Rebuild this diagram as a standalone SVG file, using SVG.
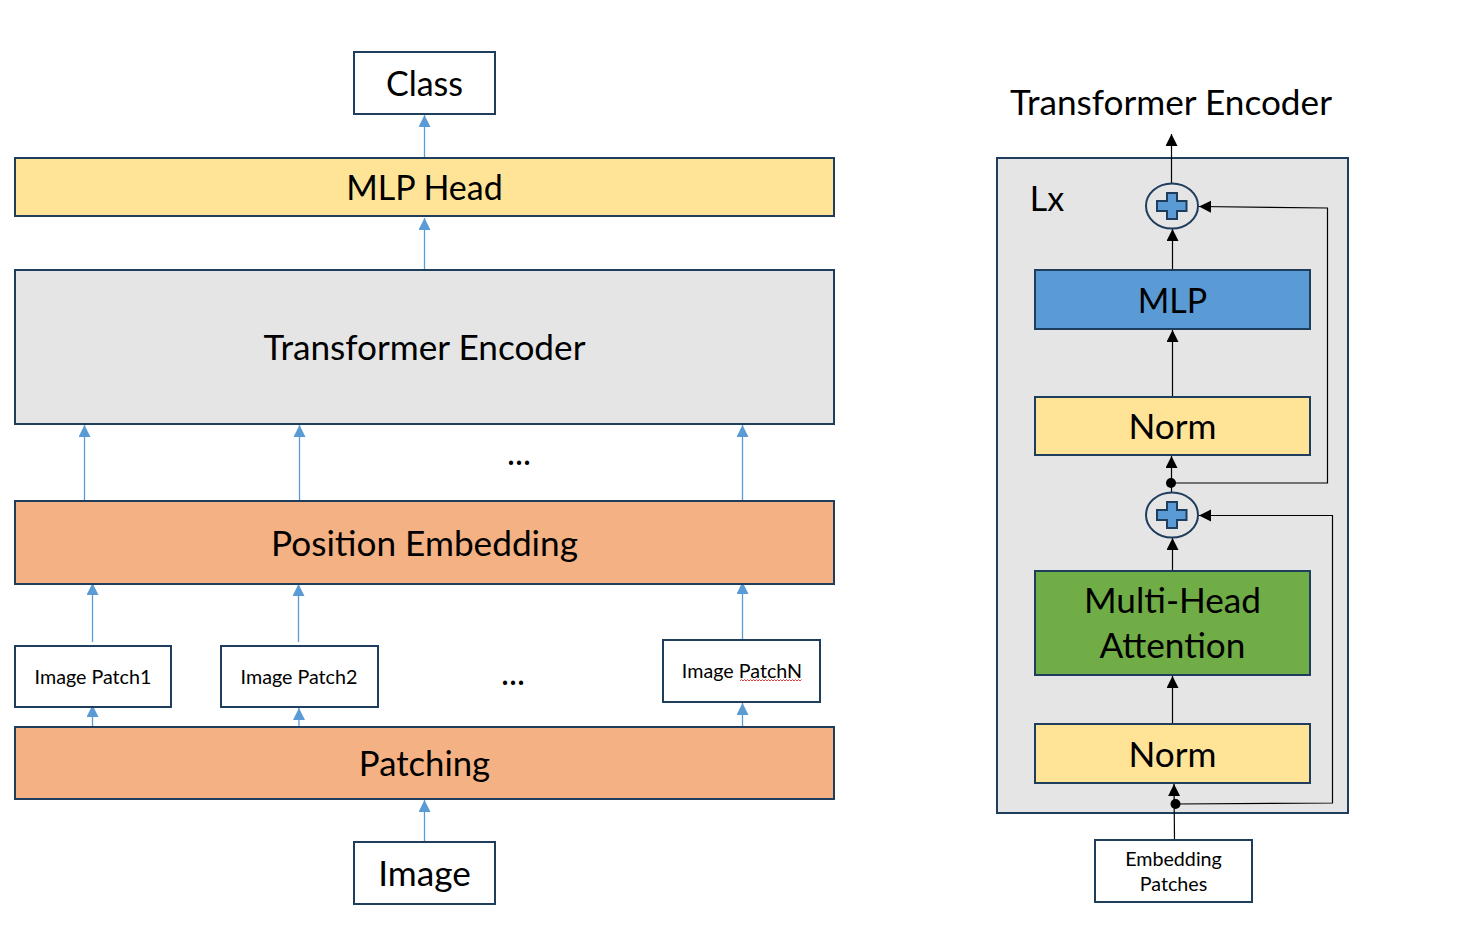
<svg xmlns="http://www.w3.org/2000/svg" width="1480" height="945" viewBox="0 0 1480 945">
<style>
text{font-family:Lato,"Open Sans","Liberation Sans",sans-serif;fill:#000;text-anchor:middle}
.b{stroke:#1f3d5c;stroke-width:2}
.w{fill:#fff}.y{fill:#ffe497}.g{fill:#e5e5e5}.o{fill:#f4b183}.bl{fill:#5b9bd5}.gr{fill:#70ad47}
.m{font-size:35.2px}.n{font-size:34px}.s{font-size:19.7px}.d{font-size:34px}
.cb{stroke:#5b9bd5;stroke-width:1.3;fill:none;marker-end:url(#ab)}
.ck{stroke:#000;stroke-width:1.2;fill:none;marker-end:url(#ak)}
</style>
<defs>
<marker id="ab" markerUnits="userSpaceOnUse" markerWidth="13" markerHeight="13" refX="12" refY="6" orient="auto"><path d="M0 0L12 6L0 12Z" fill="#5b9bd5"/></marker>
<marker id="ak" markerUnits="userSpaceOnUse" markerWidth="13" markerHeight="13" refX="12" refY="6" orient="auto"><path d="M0 0L12 6L0 12Z" fill="#000"/></marker>
</defs>
<rect width="1480" height="945" fill="#fff"/>
<g id="encoder-frame"><rect class="b g" x="997" y="158" width="351" height="655"/></g>
<g id="connectors">
<path class="cb" d="M424.500 158V115"/>
<path class="cb" d="M424.500 270V218"/>
<path class="cb" d="M84.500 501V425"/>
<path class="cb" d="M299.500 501V425"/>
<path class="cb" d="M742.500 501V425"/>
<path class="cb" d="M92.500 642V583"/>
<path class="cb" d="M298.500 642V584"/>
<path class="cb" d="M742.500 640V582"/>
<path class="cb" d="M92.500 727V705"/>
<path class="cb" d="M299 727V708"/>
<path class="cb" d="M742.500 727V703"/>
<path class="cb" d="M424.500 842V800"/>
<path class="ck" d="M1171.500 183V134"/>
<path class="ck" d="M1172.500 270V229"/>
<path class="ck" d="M1172.500 397V330"/>
<path class="ck" d="M1171.500 492V456"/>
<path class="ck" d="M1172.500 571V538"/>
<path class="ck" d="M1172.500 724V676"/>
<path class="ck" d="M1174.500 840L1174 784"/>
<path class="ck" d="M1171 483H1327.500V208L1199 206.500"/>
<path class="ck" d="M1175 804L1332.500 803V515.500H1199"/>
<circle cx="1171" cy="483" r="5"/>
<circle cx="1175.500" cy="804" r="5"/>
</g>
<g id="class"><rect class="b w" x="354" y="52" width="141" height="62"/><text class="n" x="424.500" y="96">Class</text></g>
<g id="mlp-head"><rect class="b y" x="15" y="158" width="819" height="58"/><text class="n" x="424.500" y="200">MLP Head</text></g>
<g id="transformer-encoder"><rect class="b g" x="15" y="270" width="819" height="154"/><text class="m" x="424.500" y="360">Transformer Encoder</text></g>
<g id="position-embedding"><rect class="b o" x="15" y="501" width="819" height="83"/><text class="m" x="424.500" y="556">Position Embedding</text></g>
<g id="patch1"><rect class="b w" x="15" y="646" width="156" height="61"/><text class="s" x="93" y="684">Image Patch1</text></g>
<g id="patch2"><rect class="b w" x="221" y="646" width="157" height="61"/><text class="s" x="299" y="684">Image Patch2</text></g>
<g id="patchN"><rect class="b w" x="663" y="640" width="157" height="62"/><text class="s" x="742" y="678">Image PatchN</text><path d="M740 681l1.500-1.500 1.500 1.500 1.500-1.500 1.500 1.500 1.500-1.500 1.500 1.500 1.500-1.500 1.500 1.500 1.500-1.500 1.500 1.500 1.500-1.500 1.500 1.500 1.500-1.500 1.500 1.500 1.500-1.500 1.500 1.500 1.500-1.500 1.500 1.500 1.500-1.500 1.500 1.500 1.500-1.500 1.500 1.500 1.500-1.500 1.500 1.500 1.500-1.500 1.500 1.500 1.500-1.500 1.500 1.500 1.500-1.500 1.500 1.500 1.500-1.500 1.500 1.500 1.500-1.500 1.500 1.500 1.500-1.500 1.500 1.500 1.500-1.500 1.500 1.500 1.500-1.500 1.500 1.500 1.500-1.500" fill="none" stroke="#e04040" stroke-width="1"/></g>
<g id="patching"><rect class="b o" x="15" y="727" width="819" height="72"/><text class="n" style="font-size:34.700px" x="424.500" y="776">Patching</text></g>
<g id="image"><rect class="b w" x="354" y="842" width="141" height="62"/><text class="m" x="424.500" y="886">Image</text></g>
<g id="dots-top"><text class="d" x="519" y="465">...</text></g>
<g id="dots-bottom"><text class="d" x="513" y="685">...</text></g>
<g id="title"><text class="m" x="1171" y="115">Transformer Encoder</text></g>
<g id="lx"><text class="n" x="1047" y="211">Lx</text></g>
<g id="add-top"><ellipse class="b" cx="1172" cy="206" rx="26" ry="22.500" fill="#e5e5e5"/><path class="b bl" d="M1167 193h10v8h9.500v10h-9.500v8h-10v-8h-10v-10h10z"/></g>
<g id="mlp"><rect class="b bl" x="1035" y="270" width="275" height="59"/><text class="n" x="1172.500" y="313">MLP</text></g>
<g id="norm-top"><rect class="b y" x="1035" y="397" width="275" height="58"/><text class="m" x="1172.500" y="439">Norm</text></g>
<g id="add-bottom"><ellipse class="b" cx="1172" cy="515" rx="26" ry="22.500" fill="#e5e5e5"/><path class="b bl" d="M1167 502h10v8h9.500v10h-9.500v8h-10v-8h-10v-10h10z"/></g>
<g id="multi-head"><rect class="b gr" x="1035" y="571" width="275" height="104"/><text class="m" x="1172.500" y="613">Multi-Head</text><text class="m" x="1172.500" y="658">Attention</text></g>
<g id="norm-bottom"><rect class="b y" x="1035" y="724" width="275" height="59"/><text class="m" x="1172.500" y="767">Norm</text></g>
<g id="embedding"><rect class="b w" x="1095" y="840" width="157" height="62"/><text class="s" x="1173.500" y="866">Embedding</text><text class="s" x="1173.500" y="891">Patches</text></g>
</svg>
